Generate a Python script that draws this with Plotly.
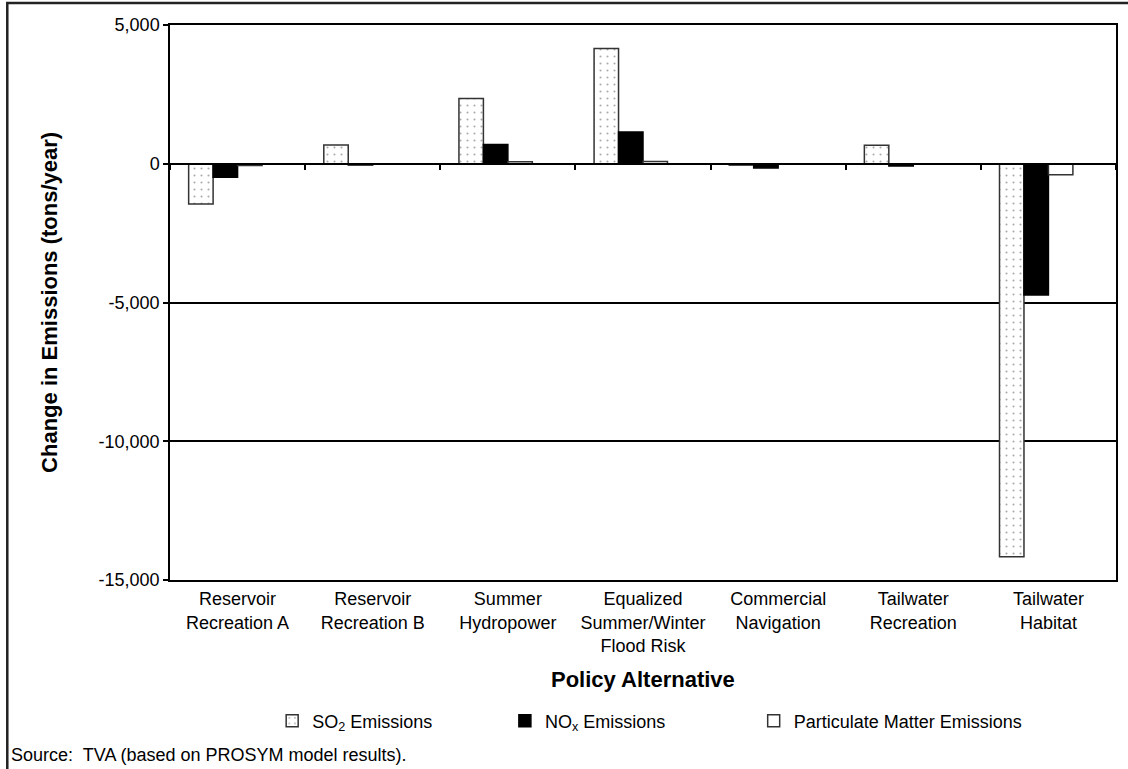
import plotly.graph_objects as go

categories = ["Reservoir<br>Recreation A", "Reservoir<br>Recreation B", "Summer<br>Hydropower",
              "Equalized<br>Summer/Winter<br>Flood Risk", "Commercial<br>Navigation",
              "Tailwater<br>Recreation", "Tailwater<br>Habitat"]
so2 = [-1450, 680, 2350, 4150, -50, 670, -14160]
nox = [-490, -45, 690, 1145, -150, -80, -4730]
pm = [-60, 0, 70, 80, 0, 0, -400]
empty_slot = [0, 0, 0, 0, 0, 0, 0]   # unused fourth series slot of the original chart
y_ticks = [5000, 0, -5000, -10000, -15000]
y_tick_text = ["5,000", "0", "-5,000", "-10,000", "-15,000"]

FONT = "Liberation Sans, Arial, sans-serif"

fig = go.Figure()
fig.add_trace(go.Bar(
    x=categories, y=so2, name="SO<sub>2</sub> Emissions", legend="legend",
    marker=dict(color="white", line=dict(color="#333333", width=1.5),
                pattern=dict(shape=".", fgcolor="#555555", bgcolor="white", size=7, solidity=0.07)),
))
fig.add_trace(go.Bar(
    x=categories, y=nox, name="NO<sub>x</sub> Emissions", legend="legend2",
    marker=dict(color="black", line=dict(color="black", width=1.5)),
))
fig.add_trace(go.Bar(
    x=categories, y=pm, name="Particulate Matter Emissions", legend="legend3",
    marker=dict(color="white", line=dict(color="#333333", width=1.5)),
))
fig.add_trace(go.Bar(
    x=categories, y=empty_slot, showlegend=False, hoverinfo="skip",
    marker=dict(color="rgba(0,0,0,0)", line=dict(width=0)),
))
# zero-line axis carrier (category boundary ticks along y = 0)
fig.add_trace(go.Scatter(x=categories, y=[None] * len(categories), xaxis="x2",
                         showlegend=False, hoverinfo="skip", mode="markers"))

fig.update_layout(
    width=1128, height=769,
    margin=dict(l=170, r=10, t=25, b=189),
    paper_bgcolor="white", plot_bgcolor="white",
    barmode="group", bargap=0.276, bargroupgap=0,
    font=dict(family=FONT, size=18, color="black"),
    xaxis=dict(type="category", categoryorder="array", categoryarray=categories,
               range=[-0.5, 6.5], showline=True, mirror=True, linecolor="black", linewidth=1.5,
               ticks="", showgrid=False, tickfont=dict(size=18), ticklabelstandoff=2),
    xaxis2=dict(type="category", categoryorder="array", categoryarray=categories,
                range=[-0.5, 6.5], overlaying="x", anchor="free", position=0.75, side="bottom",
                showline=True, linecolor="black", linewidth=1.5, showticklabels=False,
                ticks="outside", tickson="boundaries", ticklen=5, tickcolor="black", tickwidth=1.5,
                showgrid=False),
    yaxis=dict(range=[-15000, 5000], tickvals=y_ticks, ticktext=y_tick_text,
               showline=True, mirror=True, linecolor="black", linewidth=1.5,
               ticks="outside", ticklen=5, tickcolor="black", tickwidth=1.5,
               showgrid=True, gridcolor="black", gridwidth=1.5,
               zeroline=True, zerolinecolor="black", zerolinewidth=1.5,
               tickfont=dict(size=18)),
    legend=dict(orientation="h", x=0.108, y=-0.254, xanchor="left", yanchor="middle",
                bgcolor="rgba(0,0,0,0)", font=dict(size=18)),
    legend2=dict(orientation="h", x=0.354, y=-0.254, xanchor="left", yanchor="middle",
                 bgcolor="rgba(0,0,0,0)", font=dict(size=18)),
    legend3=dict(orientation="h", x=0.617, y=-0.254, xanchor="left", yanchor="middle",
                 bgcolor="rgba(0,0,0,0)", font=dict(size=18)),
    showlegend=True,
)

fig.add_annotation(text="<b>Change in Emissions (tons/year)</b>", textangle=-90,
                   xref="paper", yref="paper", x=-0.1275, y=0.5, xanchor="center", showarrow=False,
                   font=dict(size=22))
fig.add_annotation(text="<b>Policy Alternative</b>", xref="paper", yref="paper",
                   x=0.5, y=-0.205, showarrow=False, font=dict(size=22))
fig.add_annotation(text="Source:  TVA (based on PROSYM model results).", xref="paper", yref="paper",
                   x=-0.17, y=-0.315, xanchor="left", yanchor="middle", showarrow=False,
                   font=dict(size=18))
# outer figure frame
fig.add_shape(type="rect", xref="paper", yref="paper", x0=-0.172, x1=1.02, y0=-0.36, y1=1.0396,
              line=dict(color="#222222", width=2.5), fillcolor="rgba(0,0,0,0)", layer="above")

fig.write_html("out.html", config={"displayModeBar": False},
               post_script="document.body.style.margin='0';")
